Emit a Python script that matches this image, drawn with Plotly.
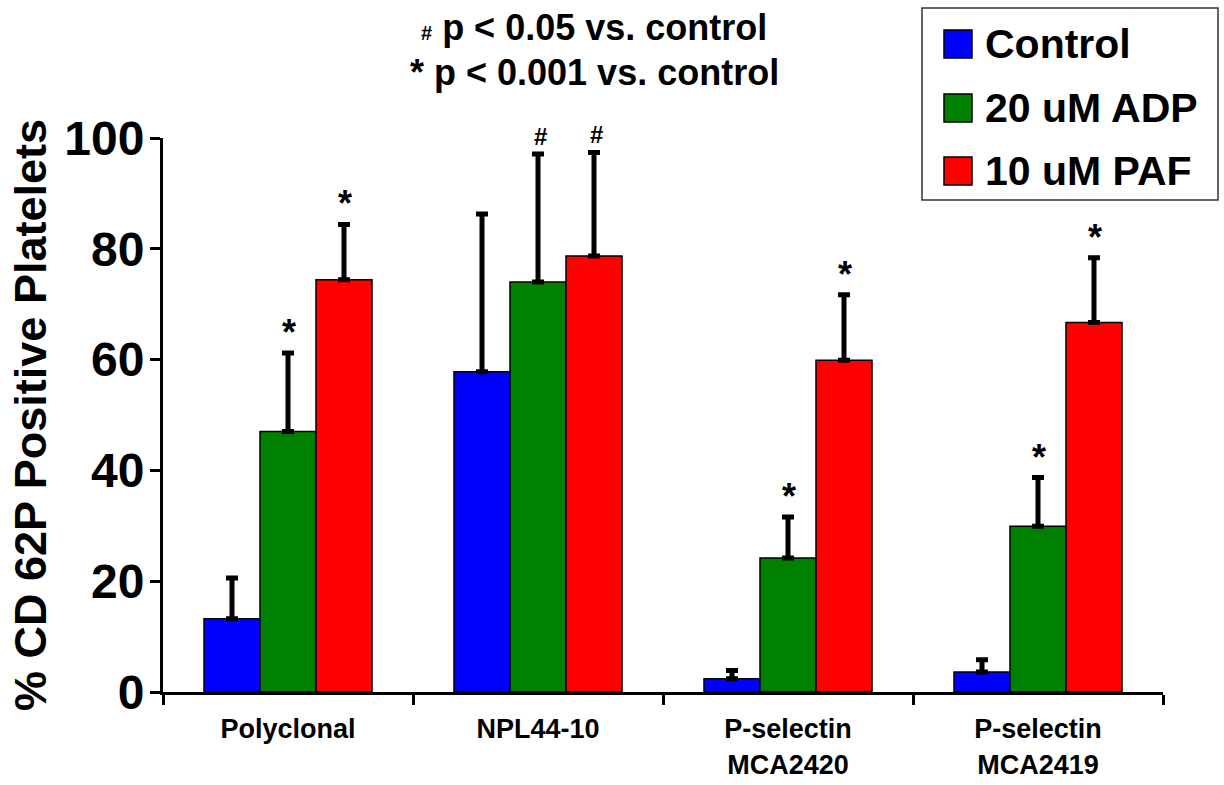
import plotly.graph_objects as go

categories = ["Polyclonal", "NPL44-10", "P-selectin<br>MCA2420", "P-selectin<br>MCA2419"]
series_names = ["Control", "20 uM ADP", "10 uM PAF"]
control = [13.2, 57.8, 2.4, 3.6]
adp = [47.0, 74.0, 24.2, 29.9]
paf = [74.4, 78.7, 59.9, 66.7]
control_err = [7.4, 28.5, 1.5, 2.2]
adp_err = [14.2, 23.1, 7.4, 8.8]
paf_err = [10.0, 18.7, 11.8, 11.7]
# significance markers ("" none, "*" p<0.001, "#" p<0.05)
control_sig = ["", "", "", ""]
adp_sig = ["*", "#", "*", "*"]
paf_sig = ["*", "#", "*", "*"]

colors = ["#0000FF", "#008000", "#FF0000"]
FONT = "Arial, Liberation Sans, sans-serif"

# layout geometry (pixels)
W, H = 1224, 785
L, R, T, B = 163, 61, 138, 93
PW, PH = W - L - R, H - T - B


def px(x, y):
    return (x - L) / PW, (H - B - y) / PH


fig = go.Figure()
all_vals = [control, adp, paf]
all_errs = [control_err, adp_err, paf_err]
all_sig = [control_sig, adp_sig, paf_sig]
for i, name in enumerate(series_names):
    fig.add_trace(go.Bar(
        name=name, x=categories, y=all_vals[i],
        marker=dict(color=colors[i], line=dict(color="black", width=1.5)),
        error_y=dict(type="data", symmetric=False, array=all_errs[i],
                     arrayminus=[0] * len(categories),
                     color="black", thickness=5, width=6),
        showlegend=False,
    ))

# significance markers above error bars
bar_px = PW / len(categories) * (1 - 0.328) / 3
for i in range(3):
    for j, cat in enumerate(categories):
        s = all_sig[i][j]
        if not s:
            continue
        top = all_vals[i][j] + all_errs[i][j]
        if s == "*":
            fig.add_annotation(x=cat, y=top, xref="x", yref="y", text="*",
                               showarrow=False, yanchor="bottom",
                               xshift=(i - 1) * bar_px + 1, yshift=-2,
                               font=dict(family=FONT, size=36, color="black", weight="bold"))
        else:
            fig.add_annotation(x=cat, y=top, xref="x", yref="y", text="#",
                               showarrow=False, yanchor="bottom",
                               xshift=(i - 1) * bar_px + 2, yshift=2,
                               font=dict(family=FONT, size=24, color="black", weight="bold"))

# top notes
x0, y0 = px(594, 27)
fig.add_annotation(x=x0, y=y0, xref="paper", yref="paper", showarrow=False,
                   yanchor="middle", xanchor="center",
                   text="<span style='font-size:20px'>#</span> p &lt; 0.05 vs. control",
                   font=dict(family=FONT, size=36, color="black", weight="bold"))
x0, y0 = px(594, 72)
fig.add_annotation(x=x0, y=y0, xref="paper", yref="paper", showarrow=False,
                   yanchor="middle", xanchor="center",
                   text="* p &lt; 0.001 vs. control",
                   font=dict(family=FONT, size=36, color="black", weight="bold"))

# manual legend
bx0, by0 = px(922, 200)
bx1, by1 = px(1218, 8)
fig.add_shape(type="rect", xref="paper", yref="paper", x0=bx0, y0=by0, x1=bx1, y1=by1,
              line=dict(color="#333333", width=1.5), fillcolor="white")
legend_y = [44, 108, 171]
for i, name in enumerate(series_names):
    sx0, sy0 = px(944, legend_y[i] + 14)
    sx1, sy1 = px(972, legend_y[i] - 14)
    fig.add_shape(type="rect", xref="paper", yref="paper", x0=sx0, y0=sy0, x1=sx1, y1=sy1,
                  line=dict(color="black", width=1.5), fillcolor=colors[i])
    tx, ty = px(983, legend_y[i])
    fig.add_annotation(x=tx, y=ty, xref="paper", yref="paper", showarrow=False,
                       xanchor="left", yanchor="middle", text=name,
                       font=dict(family=FONT, size=41, color="black", weight="bold"))

fig.update_layout(
    width=W, height=H,
    margin=dict(l=L, r=R, t=T, b=B, pad=0, autoexpand=False),
    paper_bgcolor="white", plot_bgcolor="white",
    barmode="group", bargap=0.328, bargroupgap=0,
    font=dict(family=FONT, color="black"),
    showlegend=False,
)
fig.update_xaxes(
    type="category", showline=True, linecolor="black", linewidth=3,
    ticks="outside", tickson="boundaries", ticklen=10, tickwidth=3, tickcolor="black",
    tickfont=dict(family=FONT, size=27, color="black", weight="bold"),
    ticklabelstandoff=11, automargin=False,
    showgrid=False, zeroline=False,
)
fig.update_yaxes(
    range=[0, 100], tickvals=[0, 20, 40, 60, 80, 100],
    showline=True, linecolor="black", linewidth=3,
    ticks="outside", ticklen=10, tickwidth=3, tickcolor="black",
    tickfont=dict(family=FONT, size=48, color="black", weight="bold"),
    ticklabelstandoff=-4, automargin=False,
    showgrid=False, zeroline=False,
    title=dict(text="% CD 62P Positive Platelets",
               font=dict(family=FONT, size=45, color="black", weight="bold"), standoff=4),
)

fig.write_html("out.html")
